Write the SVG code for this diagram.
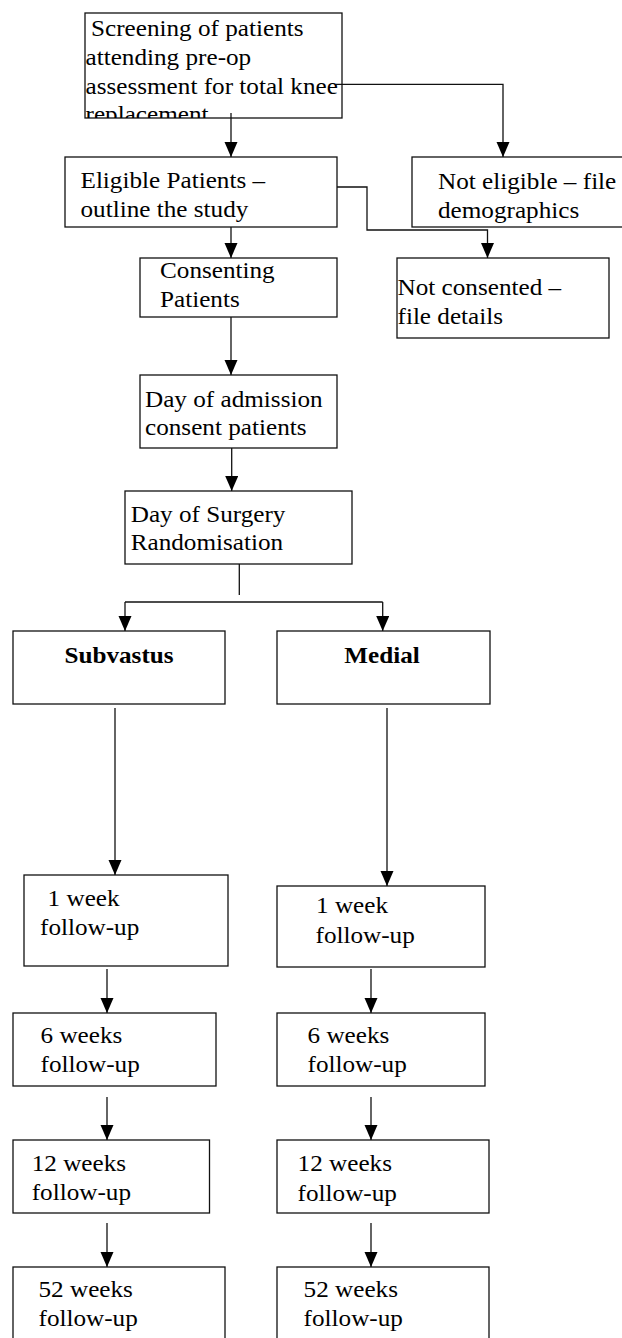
<svg xmlns="http://www.w3.org/2000/svg" width="622" height="1338" viewBox="0 0 622 1338">
<style>
.box{fill:#fff;stroke:#111;stroke-width:1.3}
.t{font-family:"Liberation Serif","Times New Roman",serif;font-size:23px;fill:#000}
.b{font-weight:bold;text-anchor:middle}
.c{fill:none;stroke:#111;stroke-width:1.3}
</style>
<defs>
<marker id="ah" markerUnits="userSpaceOnUse" markerWidth="16" markerHeight="14" refX="15" refY="6.5" orient="auto">
<path d="M0,0 L15,6.5 L0,13 z" fill="#000"/>
</marker>
<clipPath id="clipS"><rect x="85" y="13" width="257" height="105"/></clipPath>
</defs>
<rect width="622" height="1338" fill="#fff"/>
<g id="screening">
<rect class="box" x="85" y="13" width="257" height="105"/>
<g clip-path="url(#clipS)">
<text class="t" transform="translate(91,36) scale(1.095,1)">Screening of patients</text>
<text class="t" transform="translate(85.5,65) scale(1.095,1)">attending pre-op</text>
<text class="t" transform="translate(85.5,93.5) scale(1.095,1)">assessment for total knee</text>
<text class="t" transform="translate(85.5,122) scale(1.095,1)">replacement</text>
</g>
</g>
<g id="eligible">
<rect class="box" x="65" y="157" width="272" height="70"/>
<text class="t" transform="translate(80.5,188) scale(1.095,1)">Eligible Patients –</text>
<text class="t" transform="translate(80.5,217) scale(1.095,1)">outline the study</text>
</g>
<g id="noteligible">
<rect class="box" x="412" y="157" width="220" height="70"/>
<text class="t" transform="translate(438,189) scale(1.095,1)">Not eligible – file</text>
<text class="t" transform="translate(438,218) scale(1.095,1)">demographics</text>
</g>
<g id="consenting">
<rect class="box" x="140" y="258" width="197" height="59"/>
<text class="t" transform="translate(160,278) scale(1.095,1)">Consenting</text>
<text class="t" transform="translate(160,307) scale(1.095,1)">Patients</text>
</g>
<g id="notconsented">
<rect class="box" x="397" y="258" width="212" height="80"/>
<text class="t" transform="translate(397.5,295) scale(1.095,1)">Not consented –</text>
<text class="t" transform="translate(397.5,324) scale(1.095,1)">file details</text>
</g>
<g id="admission">
<rect class="box" x="140" y="375" width="197" height="73"/>
<text class="t" transform="translate(145,407) scale(1.095,1)">Day of admission</text>
<text class="t" transform="translate(145,435) scale(1.095,1)">consent patients</text>
</g>
<g id="surgery">
<rect class="box" x="125" y="491" width="227" height="73"/>
<text class="t" transform="translate(130.7,522) scale(1.095,1)">Day of Surgery</text>
<text class="t" transform="translate(130.7,550) scale(1.095,1)">Randomisation</text>
</g>
<g id="subvastus">
<rect class="box" x="13" y="631" width="212" height="73"/>
<text class="t b" transform="translate(119,663) scale(1.095,1)">Subvastus</text>
</g>
<g id="medial">
<rect class="box" x="277" y="631" width="213" height="73"/>
<text class="t b" transform="translate(382,663) scale(1.095,1)">Medial</text>
</g>
<g id="week1L">
<rect class="box" x="24" y="875" width="204" height="91"/>
<text class="t" transform="translate(47.6,906) scale(1.095,1)">1 week</text>
<text class="t" transform="translate(40,935) scale(1.095,1)">follow-up</text>
</g>
<g id="week1R">
<rect class="box" x="277" y="886" width="208" height="81"/>
<text class="t" transform="translate(316,913) scale(1.095,1)">1 week</text>
<text class="t" transform="translate(315.5,943) scale(1.095,1)">follow-up</text>
</g>
<g id="week6L">
<rect class="box" x="13" y="1013" width="203" height="73"/>
<text class="t" transform="translate(40.5,1043) scale(1.095,1)">6 weeks</text>
<text class="t" transform="translate(40.5,1072) scale(1.095,1)">follow-up</text>
</g>
<g id="week6R">
<rect class="box" x="277" y="1013" width="208" height="73"/>
<text class="t" transform="translate(307.5,1043) scale(1.095,1)">6 weeks</text>
<text class="t" transform="translate(307.5,1072) scale(1.095,1)">follow-up</text>
</g>
<g id="week12L">
<rect class="box" x="13" y="1140" width="196.5" height="73"/>
<text class="t" transform="translate(31.7,1171) scale(1.095,1)">12 weeks</text>
<text class="t" transform="translate(31.7,1200) scale(1.095,1)">follow-up</text>
</g>
<g id="week12R">
<rect class="box" x="277" y="1140" width="212" height="73"/>
<text class="t" transform="translate(297.6,1171) scale(1.095,1)">12 weeks</text>
<text class="t" transform="translate(297.6,1201) scale(1.095,1)">follow-up</text>
</g>
<g id="week52L">
<rect class="box" x="13" y="1267" width="212" height="80"/>
<text class="t" transform="translate(38.5,1297) scale(1.095,1)">52 weeks</text>
<text class="t" transform="translate(38.5,1326) scale(1.095,1)">follow-up</text>
</g>
<g id="week52R">
<rect class="box" x="277" y="1267" width="212" height="80"/>
<text class="t" transform="translate(303.6,1297) scale(1.095,1)">52 weeks</text>
<text class="t" transform="translate(303.6,1326) scale(1.095,1)">follow-up</text>
</g>
<g id="connectors">
<path class="c" d="M231,113 V157" marker-end="url(#ah)"/>
<path class="c" d="M336,84.3 H503 V157" marker-end="url(#ah)"/>
<path class="c" d="M231,227 V258" marker-end="url(#ah)"/>
<path class="c" d="M337,187 H367 V230 H487.5 V258" marker-end="url(#ah)"/>
<path class="c" d="M231,317 V375" marker-end="url(#ah)"/>
<path class="c" d="M231.7,448 V491" marker-end="url(#ah)"/>
<path class="c" d="M239.3,564 V595"/>
<path class="c" d="M125,602 H382.7"/>
<path class="c" d="M125,602 V631" marker-end="url(#ah)"/>
<path class="c" d="M382.7,602 V631" marker-end="url(#ah)"/>
<path class="c" d="M115,708 V875" marker-end="url(#ah)"/>
<path class="c" d="M387,708 V886" marker-end="url(#ah)"/>
<path class="c" d="M107,969 V1013" marker-end="url(#ah)"/>
<path class="c" d="M371,969 V1013" marker-end="url(#ah)"/>
<path class="c" d="M107,1097 V1140" marker-end="url(#ah)"/>
<path class="c" d="M371,1097 V1140" marker-end="url(#ah)"/>
<path class="c" d="M107,1223 V1267" marker-end="url(#ah)"/>
<path class="c" d="M371,1223 V1267" marker-end="url(#ah)"/>
</g>
</svg>
